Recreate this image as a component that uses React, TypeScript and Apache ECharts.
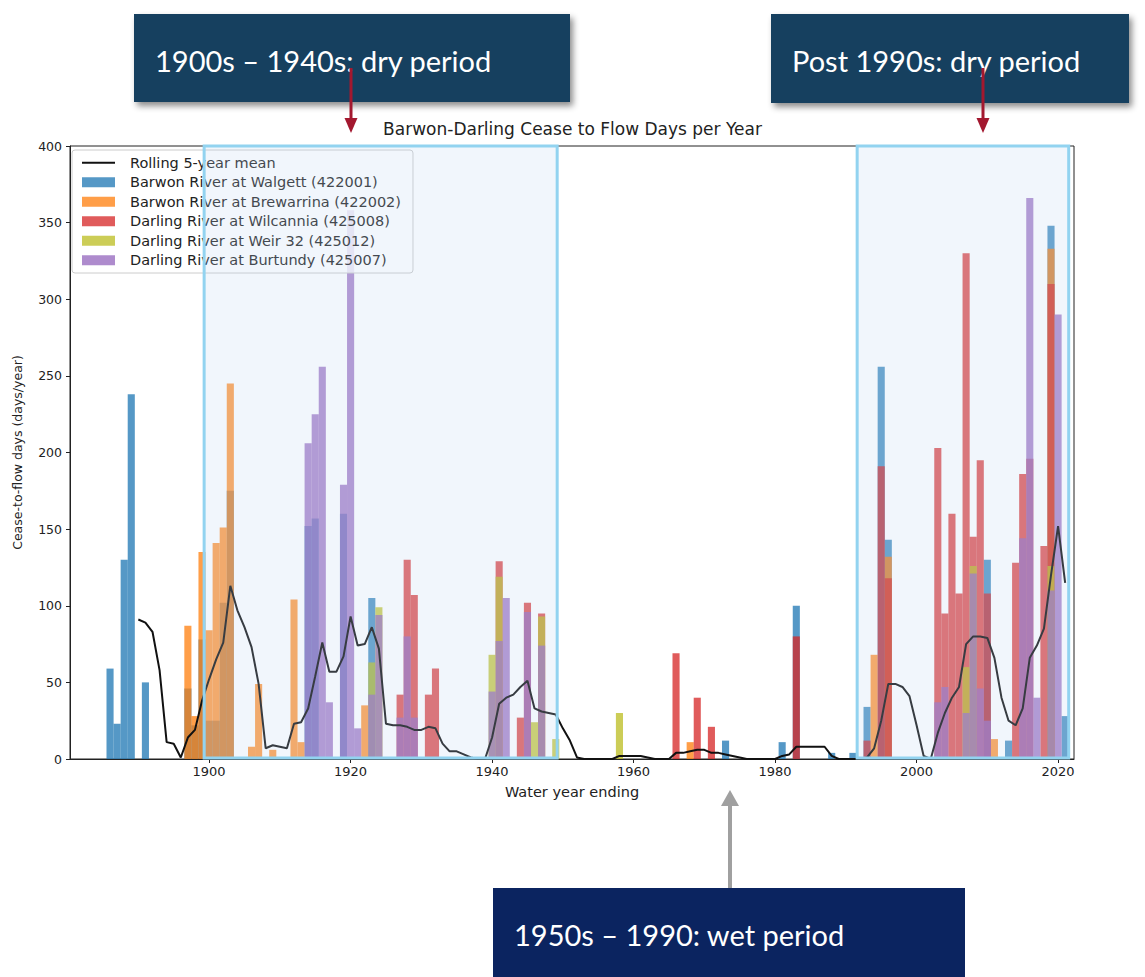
import React, { useEffect, useRef } from 'react';
import * as echarts from 'echarts';

// ---- Data ----
const xTickLabels = [1900, 1920, 1940, 1960, 1980, 2000, 2020];

const walgett: [number, number][] = [
  [1886, 59], [1887, 23], [1888, 130], [1889, 238], [1891, 50],
  [1897, 46], [1898, 22], [1899, 78], [1900, 25], [1901, 25], [1902, 102], [1903, 175],
  [1914, 152], [1915, 157], [1919, 160], [1923, 105],
  [1973, 12], [1981, 11], [1983, 100], [1988, 4], [1991, 4],
  [1993, 34], [1995, 256], [1996, 143], [2010, 130], [2013, 12], [2019, 348], [2021, 28],
];

const brewarrina: [number, number][] = [
  [1897, 87], [1898, 28], [1899, 135], [1900, 84], [1901, 141], [1902, 151], [1903, 245],
  [1906, 8], [1907, 49], [1909, 6], [1912, 104], [1913, 11], [1922, 35],
  [1968, 11], [1994, 68], [1996, 132], [2011, 13], [2019, 333],
];

const wilcannia: [number, number][] = [
  [1927, 42], [1928, 130], [1929, 107], [1931, 42], [1932, 59],
  [1941, 129], [1944, 27], [1945, 102], [1947, 95],
  [1966, 69], [1969, 40], [1971, 21], [1983, 80],
  [1993, 12], [1995, 191], [1996, 118],
  [2003, 203], [2004, 95], [2005, 160], [2006, 108], [2007, 330], [2008, 145], [2009, 195], [2010, 108],
  [2014, 128], [2015, 186], [2016, 196], [2018, 139], [2019, 310],
];

const weir32: [number, number][] = [
  [1923, 63], [1924, 99], [1940, 68], [1941, 119], [1946, 24], [1947, 93], [1949, 13],
  [1958, 30], [2007, 60], [2008, 126], [2019, 126],
];

const burtundy: [number, number][] = [
  [1914, 206], [1915, 225], [1916, 256], [1917, 37], [1919, 179], [1920, 358], [1921, 20],
  [1923, 42], [1924, 94], [1927, 27], [1928, 80], [1929, 27],
  [1940, 44], [1941, 77], [1942, 105], [1945, 96], [1947, 74],
  [2003, 37], [2004, 47], [2007, 30], [2008, 121], [2009, 46], [2010, 25],
  [2015, 144], [2016, 366], [2017, 40], [2019, 110], [2020, 290],
];

const rollingStartYear = 1890;
const rollingMean: number[] = [
  // 1890-1899
  91, 89, 83, 58, 11, 10, 1, 14, 19, 38,
  // 1900-1909
  52, 65, 76, 113, 97, 86, 73, 49, 7, 9,
  // 1910-1919
  8, 7, 23, 24, 33, 54, 76, 57, 57, 67,
  // 1920-1929
  93, 74, 75, 86, 72, 23, 22, 22, 21, 19,
  // 1930-1939
  19, 21, 20, 10, 5, 5, 3, 1, 0, 0,
  // 1940-1949
  14, 36, 40, 42, 47, 51, 33, 31, 30, 29,
  // 1950-1959
  20, 12, 1, 0, 0, 0, 0, 0, 2, 2,
  // 1960-1969
  2, 2, 1, 0, 0, 0, 4, 4, 5, 6,
  // 1970-1979
  6, 4, 4, 3, 2, 1, 0, 0, 0, 0,
  // 1980-1989
  0, 2, 3, 8, 8, 8, 8, 8, 2, 0,
  // 1990-1999
  0, 0, 0, 1, 7, 25, 49, 49, 47, 41,
  // 2000-2009
  22, 2, 0, 17, 30, 40, 47, 75, 80, 80,
  // 2010-2019
  79, 66, 40, 25, 22, 33, 66, 74, 85, 120,
  // 2020-2021
  152, 115,
];

// highlighted periods (x start, x end, top value)
const highlightPeriods: [number, number, number][] = [
  [1899.3, 1949.2, 400],
  [1991.6, 2021.5, 400],
];

const names = [
  'Rolling 5-year mean',
  'Barwon River at Walgett (422001)',
  'Barwon River at Brewarrina (422002)',
  'Darling River at Wilcannia (425008)',
  'Darling River at Weir 32 (425012)',
  'Darling River at Burtundy (425007)',
];
const colors = ['#1f77b4', '#ff7f0e', '#d62728', '#bcbd22', '#9467bd'];

export default function App() {
  const ref = useRef<HTMLDivElement>(null);

  useEffect(() => {
    document.body.style.margin = '0';
    const chart = echarts.init(ref.current as HTMLDivElement, undefined, { renderer: 'svg' });
    const font = 'DejaVu Sans';
    const bar = (name: string, data: [number, number][], color: string) => ({
      type: 'bar',
      name,
      data,
      barWidth: 7.1,
      barGap: '-100%',
      itemStyle: { color, opacity: 0.76 },
      z: 2,
      silent: true,
    });

    const option: any = {
      animation: false,
      textStyle: { fontFamily: font },
      title: {
        text: 'Barwon-Darling Cease to Flow Days per Year',
        left: 'center',
        top: 115,
        textStyle: { fontSize: 17, fontWeight: 'normal', color: '#222', fontFamily: font },
      },
      legend: {
        data: [
          { name: names[0], icon: 'path://M0,0H33V2H0Z' },
          { name: names[1], icon: 'rect' },
          { name: names[2], icon: 'rect' },
          { name: names[3], icon: 'rect' },
          { name: names[4], icon: 'rect' },
          { name: names[5], icon: 'rect' },
        ],
        orient: 'vertical',
        left: 72,
        top: 150,
        itemWidth: 33,
        itemHeight: 10,
        itemGap: 4,
        padding: [5, 12, 5, 10],
        backgroundColor: 'rgba(255,255,255,0.8)',
        borderColor: '#cccccc',
        borderWidth: 1,
        borderRadius: 3,
        selectedMode: false,
        textStyle: { fontSize: 14.5, color: '#222', fontFamily: font, padding: [0, 0, 0, 10], lineHeight: 15.5 },
      },
      grid: {
        left: 70,
        right: 71,
        top: 146,
        bottom: 218,
        show: true,
        borderColor: '#222',
        borderWidth: 1,
        backgroundColor: 'transparent',
      },
      xAxis: {
        type: 'value',
        min: 1880.34,
        max: 2022.25,
        name: 'Water year ending',
        nameLocation: 'middle',
        nameGap: 25,
        nameTextStyle: { fontSize: 14.5, color: '#222', fontFamily: font },
        axisLine: { lineStyle: { color: '#222' } },
        axisTick: { show: true, length: 4, lineStyle: { color: '#222' }, customValues: xTickLabels },
        axisLabel: {
          fontSize: 13,
          color: '#222',
          margin: 6,
          customValues: xTickLabels,
          formatter: (v: number) => String(Math.round(v)),
        },
        splitLine: { show: false },
      },
      yAxis: {
        type: 'value',
        min: 0,
        max: 400,
        interval: 50,
        name: 'Cease-to-flow days (days/year)',
        nameLocation: 'middle',
        nameGap: 46,
        nameRotate: 90,
        nameTextStyle: { fontSize: 12.5, color: '#222', fontFamily: font },
        axisLine: { show: true, lineStyle: { color: '#222' } },
        axisTick: { show: true, length: 4, lineStyle: { color: '#222' } },
        axisLabel: { fontSize: 12.5, color: '#222', margin: 8 },
        splitLine: { show: false },
      },
      series: [
        bar(names[1], walgett, colors[0]),
        bar(names[2], brewarrina, colors[1]),
        bar(names[3], wilcannia, colors[2]),
        bar(names[4], weir32, colors[3]),
        bar(names[5], burtundy, colors[4]),
        {
          type: 'line',
          name: names[0],
          data: rollingMean.map((v, i) => [rollingStartYear + i, v]),
          symbol: 'none',
          showSymbol: false,
          lineStyle: { color: '#111', width: 2 },
          itemStyle: { color: '#111' },
          z: 3,
          silent: true,
        },
        {
          type: 'custom',
          name: 'highlight',
          data: highlightPeriods,
          encode: { x: [0, 1], y: 2 },
          z: 10,
          silent: true,
          clip: false,
          renderItem: (params: any, api: any) => {
            const p0 = api.coord([api.value(0), api.value(2)]);
            const p1 = api.coord([api.value(1), 0]);
            return {
              type: 'rect',
              shape: { x: p0[0], y: p0[1], width: p1[0] - p0[0], height: p1[1] - p0[1] - 1 },
              style: { fill: 'rgba(190,215,240,0.22)', stroke: '#92d3f0', lineWidth: 3 },
            };
          },
        },
      ],
      graphic: [
        {
          type: 'rect',
          z: 100,
          shape: { x: 134, y: 14, width: 436, height: 88 },
          style: { fill: '#173f5f', shadowBlur: 6, shadowOffsetX: 3, shadowOffsetY: 4, shadowColor: 'rgba(0,0,0,0.45)' },
        },
        {
          type: 'text',
          z: 101,
          x: 155,
          y: 60,
          style: { text: '1900s – 1940s: dry period', fill: '#ffffff', font: '29px Lato', verticalAlign: 'middle' },
        },
        {
          type: 'rect',
          z: 100,
          shape: { x: 771, y: 14, width: 358, height: 89 },
          style: { fill: '#173f5f', shadowBlur: 6, shadowOffsetX: 3, shadowOffsetY: 4, shadowColor: 'rgba(0,0,0,0.45)' },
        },
        {
          type: 'text',
          z: 101,
          x: 792,
          y: 60,
          style: { text: 'Post 1990s: dry period', fill: '#ffffff', font: '29px Lato', verticalAlign: 'middle' },
        },
        {
          type: 'rect',
          z: 100,
          shape: { x: 493, y: 888, width: 472, height: 95 },
          style: { fill: '#0b2460' },
        },
        {
          type: 'text',
          z: 101,
          x: 514,
          y: 934,
          style: { text: '1950s – 1990: wet period', fill: '#ffffff', font: '29px Lato', verticalAlign: 'middle' },
        },
        // red arrows
        { type: 'line', z: 102, shape: { x1: 351, y1: 68, x2: 351, y2: 120 }, style: { stroke: '#a3182f', lineWidth: 3 } },
        { type: 'polygon', z: 102, shape: { points: [[344.5, 118], [357.5, 118], [351, 133]] }, style: { fill: '#a3182f' } },
        { type: 'line', z: 102, shape: { x1: 983, y1: 68, x2: 983, y2: 120 }, style: { stroke: '#a3182f', lineWidth: 3 } },
        { type: 'polygon', z: 102, shape: { points: [[976.5, 118], [989.5, 118], [983, 133]] }, style: { fill: '#a3182f' } },
        // gray arrow
        { type: 'line', z: 102, shape: { x1: 730, y1: 888, x2: 730, y2: 804 }, style: { stroke: '#a0a0a0', lineWidth: 4 } },
        { type: 'polygon', z: 102, shape: { points: [[721, 806], [739, 806], [730, 790]] }, style: { fill: '#a0a0a0' } },
      ],
    };

    chart.setOption(option);
    return () => chart.dispose();
  }, []);

  return <div ref={ref} style={{ position: 'absolute', left: 0, top: 0, width: 1145, height: 977 }} />;
}
